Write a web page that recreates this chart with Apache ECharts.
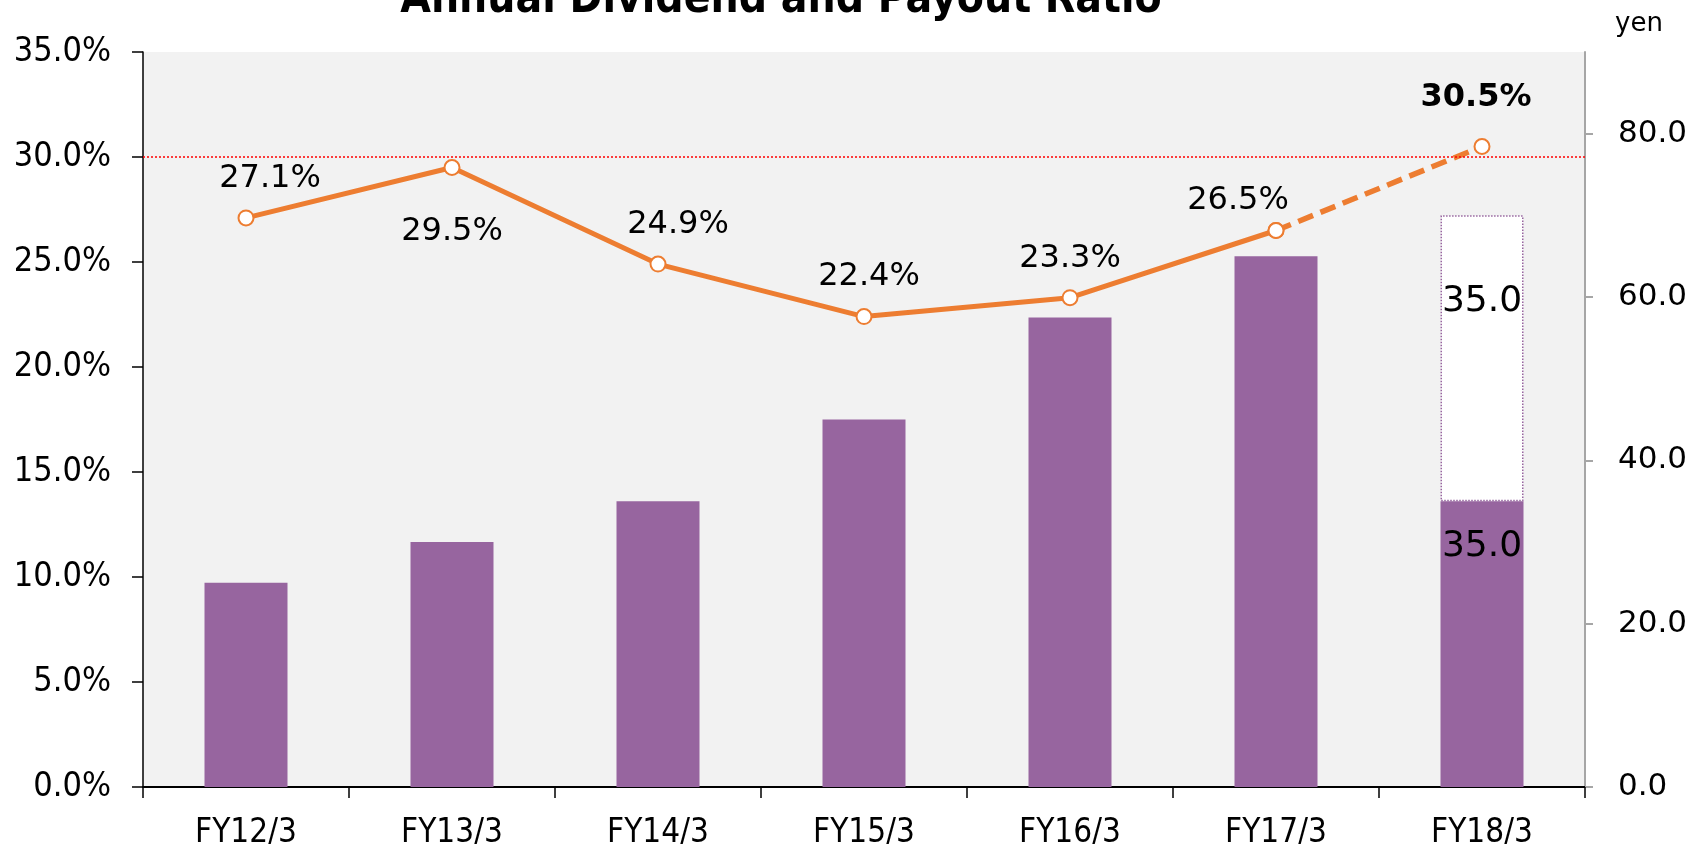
<!DOCTYPE html>
<html>
<head>
<meta charset="utf-8">
<script src="https://cdn.jsdelivr.net/npm/echarts@6/dist/echarts.min.js"></script>
<style>
  html, body { margin: 0; padding: 0; background: #fff; }
  #chart { width: 1688px; height: 844px; }
</style>
</head>
<body>
<div id="chart"></div>
<script>
// 数据
const categories = ['FY12/3', 'FY13/3', 'FY14/3', 'FY15/3', 'FY16/3', 'FY17/3', 'FY18/3']
const dividendPaid = [25.0, 30.0, 35.0, 45.0, 57.5, 65.0, 35.0]
const dividendPlanned = [null, null, null, null, null, null, 35.0]
const payoutRatio = [27.1, 29.5, 24.9, 22.4, 23.3, 26.5, 30.5]
const payoutTarget = 30
const forecastIndex = 6
const yenTicks = [0, 20, 40, 60, 80]

// 样式
const colors = {
  purple: '#97659F',
  orange: '#ED7D31',
  plot: '#F2F2F2',
  target: '#FF0000',
}
const narrow = '"DejaVu Sans Condensed", "Liberation Sans Narrow", "DejaVu Sans", sans-serif'
const wide = '"DejaVu Sans", Verdana, sans-serif'
const ratioLabelPos = ['top', 'bottom', 'top', 'top', 'top', 'top', 'top']
const ratioLabelOffset = [[24, 0], [0, 0], [20, 0], [5, 0], [0, 0], [-38, 0], [-6, 0]]
const ratioLabelDist = [15, 40, 15, 15, 15, 5, 24]

const fmtPct = v => v.toFixed(1) + '%'

const ratioItem = (v, i) => ({
  value: v,
  label: {
    show: true,
    position: ratioLabelPos[i],
    distance: ratioLabelDist[i],
    offset: ratioLabelOffset[i],
    fontWeight: i === forecastIndex ? 'bold' : 'normal',
  },
})

const chart = echarts.init(document.getElementById('chart'))

chart.setOption({
  animation: false,
  title: [
    {
      text: 'Annual Dividend and Payout Ratio',
      left: 781,
      top: -21,
      padding: 0,
      textAlign: 'center',
      textStyle: { fontFamily: narrow, fontSize: 44, fontWeight: 'bold', color: '#000' },
    },
    {
      text: 'yen',
      left: 1615,
      top: 11,
      padding: 0,
      textStyle: { fontFamily: wide, fontSize: 26, fontWeight: 'normal', color: '#000' },
    },
  ],
  grid: {
    left: 143,
    right: 103,
    top: 52,
    bottom: 57,
    outerBoundsMode: 'none',
    containLabel: false,
    show: true,
    backgroundColor: colors.plot,
    borderWidth: 0,
  },
  xAxis: {
    type: 'category',
    data: categories,
    boundaryGap: true,
    axisLine: { lineStyle: { color: '#000', width: 2 } },
    axisTick: { show: true, length: 11, lineStyle: { color: '#000', width: 1.5 } },
    axisLabel: { margin: 30, fontFamily: narrow, fontSize: 33, color: '#000' },
  },
  yAxis: [
    {
      type: 'value',
      min: 0,
      max: 35,
      interval: 5,
      axisLine: { show: true, lineStyle: { color: '#000', width: 1.5 } },
      axisTick: { show: true, length: 11, lineStyle: { color: '#000', width: 1.5 } },
      axisLabel: { margin: 32, fontFamily: narrow, fontSize: 34, color: '#000', formatter: fmtPct },
      splitLine: { show: false },
    },
    {
      type: 'value',
      position: 'right',
      min: 0,
      max: 90,
      interval: 20,
      axisLine: { show: true, lineStyle: { color: '#A6A6A6', width: 2 } },
      axisTick: { show: true, length: 8, customValues: yenTicks, lineStyle: { color: '#A6A6A6', width: 2 } },
      axisLabel: {
        margin: 33,
        fontFamily: wide,
        fontSize: 31,
        color: '#000',
        customValues: yenTicks,
        formatter: v => v.toFixed(1),
      },
      splitLine: { show: false },
    },
  ],
  series: [
    {
      type: 'bar',
      name: 'paid',
      yAxisIndex: 1,
      stack: 'div',
      barWidth: 83,
      itemStyle: { color: colors.purple },
      data: dividendPaid.map((v, i) => i === forecastIndex
        ? { value: v, label: { show: true, position: 'insideTop', distance: 27, formatter: p => p.value.toFixed(1), fontFamily: wide, fontSize: 36, color: '#000' } }
        : v),
      z: 2,
    },
    {
      type: 'bar',
      name: 'planned',
      yAxisIndex: 1,
      stack: 'div',
      barWidth: 83,
      itemStyle: { color: '#fff', borderColor: colors.purple, borderType: 'dotted', borderWidth: 1.5 },
      label: { show: true, position: 'insideTop', distance: 68, formatter: p => p.value.toFixed(1), fontFamily: wide, fontSize: 36, color: '#000' },
      data: dividendPlanned.map(v => v == null ? '-' : v),
      z: 2,
    },
    {
      type: 'line',
      name: 'ratio forecast',
      yAxisIndex: 0,
      data: payoutRatio.map((v, i) => i >= forecastIndex - 1
        ? (i === forecastIndex ? ratioItem(v, i) : { value: v, label: { show: false } })
        : '-'),
      symbol: 'circle',
      symbolSize: 15,
      showAllSymbol: true,
      lineStyle: { color: colors.orange, width: 5.5, type: [16, 8] },
      itemStyle: { color: '#fff', borderColor: colors.orange, borderWidth: 2 },
      label: { fontFamily: wide, fontSize: 32, color: '#000', formatter: p => fmtPct(p.value) },
      z: 4,
      markLine: {
        silent: true,
        symbol: 'none',
        label: { show: false },
        lineStyle: { color: colors.target, width: 1.5, type: [2, 2] },
        data: [{ yAxis: payoutTarget }],
      },
    },
    {
      type: 'line',
      name: 'ratio',
      yAxisIndex: 0,
      data: payoutRatio.map((v, i) => i < forecastIndex ? ratioItem(v, i) : '-'),
      symbol: 'circle',
      symbolSize: 15,
      showAllSymbol: true,
      lineStyle: { color: colors.orange, width: 5 },
      itemStyle: { color: '#fff', borderColor: colors.orange, borderWidth: 2 },
      label: { fontFamily: wide, fontSize: 32, color: '#000', formatter: p => fmtPct(p.value) },
      z: 5,
    },
  ],
})

window.addEventListener('resize', () => chart.resize())
</script>
</body>
</html>
